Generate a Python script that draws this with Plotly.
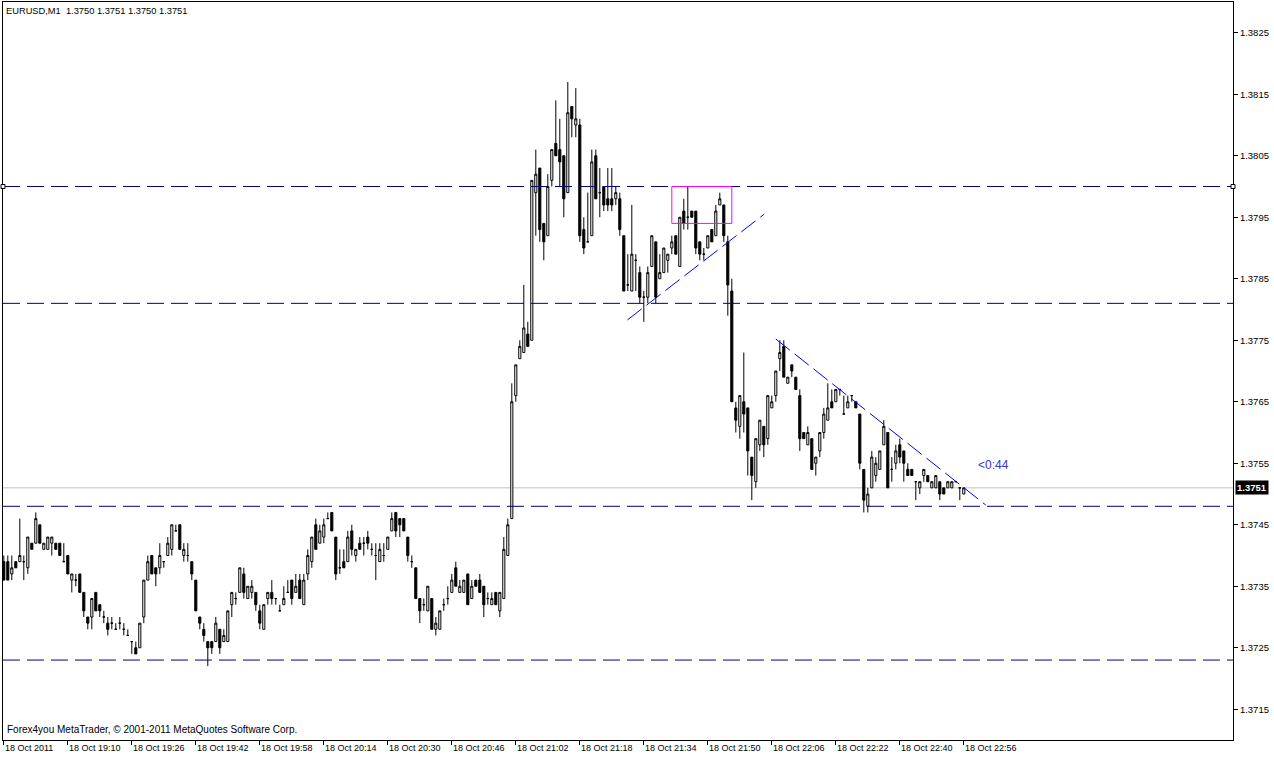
import plotly.graph_objects as go

# ---- candle data (EURUSD M1, 18 Oct 2011) ----
opens = [
1.3739,1.3739,1.3737,1.3739,1.3739,1.3739,1.3738,1.3742,1.3742,1.3745,
1.3741,1.3741,1.3742,1.3742,1.3742,1.3739,1.3740,1.3736,1.3736,1.3737,
1.3734,1.3730,1.3730,1.3734,1.3732,1.3730,1.3729,1.3729,1.3728,1.3729,
1.3728,1.3727,1.3726,1.3725,1.3725,1.3730,1.3736,1.3740,1.3738,1.3738,
1.3739,1.3740,1.3741,1.3744,1.3745,1.3740,1.3740,1.3739,1.3736,1.3730,
1.3728,1.3726,1.3726,1.3726,1.3728,1.3726,1.3726,1.3732,1.3733,1.3734,
1.3737,1.3733,1.3734,1.3734,1.3731,1.3728,1.3733,1.3734,1.3733,1.3731,
1.3732,1.3734,1.3736,1.3734,1.3736,1.3732,1.3737,1.3739,1.3745,1.3742,
1.3743,1.3746,1.3747,1.3743,1.3738,1.3739,1.3739,1.3744,1.3740,1.3742,
1.3742,1.3743,1.3741,1.3740,1.3739,1.3740,1.3741,1.3744,1.3747,1.3746,
1.3746,1.3743,1.3739,1.3738,1.3733,1.3732,1.3731,1.3733,1.3728,1.3728,
1.3732,1.3733,1.3734,1.3738,1.3734,1.3734,1.3737,1.3733,1.3736,1.3736,
1.3735,1.3733,1.3732,1.3734,1.3731,1.3733,1.3740,1.3746,1.3766,1.3772,
1.3773,1.3776,1.3775,1.3799,1.3803,1.3794,1.3792,1.3801,1.3807,1.3806,
1.3805,1.3799,1.3813,1.3810,1.3810,1.3793,1.3791,1.3792,1.3805,1.3799,
1.3800,1.3798,1.3798,1.3798,1.3798,1.3792,1.3784,1.3783,1.3788,1.3786,
1.3782,1.3782,1.3787,1.3791,1.3785,1.3786,1.3788,1.3790,1.3792,1.3787,
1.3796,1.3795,1.3796,1.3796,1.3791,1.3789,1.3790,1.3793,1.3792,1.3797,
1.3797,1.3791,1.3783,1.3764,1.3761,1.3765,1.3764,1.3756,1.3752,1.3758,
1.3761,1.3759,1.3764,1.3766,1.3772,1.3774,1.3768,1.3771,1.3769,1.3766,
1.3760,1.3758,1.3759,1.3755,1.3757,1.3760,1.3762,1.3765,1.3765,1.3767,
1.3763,1.3764,1.3766,1.3765,1.3763,1.3754,1.3748,1.3751,1.3753,1.3754,
1.3758,1.3760,1.3754,1.3755,1.3758,1.3757,1.3754,1.3754,1.3752,1.3751,
1.3753,1.3753,1.3751,1.3751,1.3752,1.3751,1.3751,1.3751,1.3752,1.3751,
1.3750]

highs = [
1.3740,1.3740,1.3740,1.3739,1.3746,1.3740,1.3743,1.3742,1.3747,1.3745,
1.3742,1.3743,1.3743,1.3742,1.3742,1.3742,1.3740,1.3737,1.3737,1.3737,
1.3734,1.3730,1.3733,1.3734,1.3732,1.3731,1.3730,1.3730,1.3729,1.3730,
1.3729,1.3728,1.3726,1.3726,1.3729,1.3736,1.3740,1.3740,1.3738,1.3742,
1.3739,1.3743,1.3745,1.3745,1.3745,1.3742,1.3742,1.3739,1.3736,1.3730,
1.3729,1.3726,1.3726,1.3730,1.3728,1.3728,1.3731,1.3734,1.3734,1.3738,
1.3738,1.3735,1.3736,1.3734,1.3732,1.3732,1.3734,1.3736,1.3733,1.3732,
1.3735,1.3736,1.3736,1.3737,1.3737,1.3737,1.3741,1.3743,1.3746,1.3745,
1.3746,1.3747,1.3747,1.3743,1.3741,1.3741,1.3744,1.3745,1.3741,1.3743,
1.3743,1.3744,1.3742,1.3742,1.3742,1.3742,1.3743,1.3747,1.3747,1.3746,
1.3746,1.3743,1.3740,1.3738,1.3733,1.3733,1.3735,1.3733,1.3730,1.3731,
1.3733,1.3735,1.3737,1.3739,1.3736,1.3736,1.3737,1.3736,1.3736,1.3737,
1.3735,1.3734,1.3734,1.3734,1.3734,1.3743,1.3746,1.3768,1.3771,1.3775,
1.3784,1.3778,1.3801,1.3806,1.3803,1.3794,1.3802,1.3806,1.3814,1.3811,
1.3805,1.3817,1.3813,1.3816,1.3811,1.3795,1.3799,1.3806,1.3806,1.3803,
1.3800,1.3803,1.3803,1.3800,1.3799,1.3792,1.3789,1.3797,1.3789,1.3787,
1.3783,1.3787,1.3792,1.3791,1.3789,1.3790,1.3789,1.3792,1.3792,1.3795,
1.3798,1.3800,1.3796,1.3796,1.3791,1.3790,1.3792,1.3793,1.3797,1.3799,
1.3797,1.3792,1.3785,1.3765,1.3766,1.3773,1.3764,1.3756,1.3759,1.3762,
1.3761,1.3766,1.3766,1.3770,1.3775,1.3775,1.3769,1.3771,1.3769,1.3767,
1.3760,1.3761,1.3759,1.3756,1.3760,1.3764,1.3768,1.3767,1.3767,1.3767,
1.3766,1.3766,1.3766,1.3765,1.3763,1.3754,1.3751,1.3757,1.3756,1.3757,
1.3762,1.3760,1.3756,1.3758,1.3759,1.3757,1.3755,1.3754,1.3752,1.3752,
1.3754,1.3753,1.3752,1.3753,1.3752,1.3751,1.3752,1.3752,1.3752,1.3751,
1.3751]

lows = [
1.3736,1.3736,1.3736,1.3738,1.3739,1.3736,1.3737,1.3741,1.3742,1.3742,
1.3741,1.3741,1.3740,1.3741,1.3740,1.3739,1.3737,1.3734,1.3735,1.3734,
1.3730,1.3728,1.3728,1.3731,1.3730,1.3729,1.3727,1.3728,1.3728,1.3728,
1.3727,1.3727,1.3724,1.3724,1.3725,1.3729,1.3736,1.3737,1.3735,1.3737,
1.3738,1.3740,1.3740,1.3744,1.3741,1.3739,1.3739,1.3736,1.3731,1.3728,
1.3726,1.3722,1.3724,1.3726,1.3724,1.3726,1.3726,1.3730,1.3732,1.3734,
1.3733,1.3733,1.3733,1.3731,1.3728,1.3728,1.3732,1.3732,1.3732,1.3731,
1.3732,1.3734,1.3732,1.3734,1.3733,1.3732,1.3736,1.3738,1.3741,1.3742,
1.3742,1.3746,1.3744,1.3736,1.3737,1.3738,1.3739,1.3740,1.3739,1.3741,
1.3740,1.3741,1.3740,1.3736,1.3739,1.3739,1.3741,1.3744,1.3743,1.3743,
1.3744,1.3739,1.3738,1.3733,1.3729,1.3731,1.3731,1.3728,1.3727,1.3728,
1.3731,1.3732,1.3734,1.3735,1.3734,1.3734,1.3732,1.3733,1.3735,1.3734,
1.3730,1.3732,1.3732,1.3732,1.3730,1.3733,1.3740,1.3746,1.3765,1.3772,
1.3773,1.3774,1.3775,1.3792,1.3791,1.3788,1.3792,1.3800,1.3805,1.3800,
1.3795,1.3799,1.3808,1.3808,1.3791,1.3789,1.3791,1.3792,1.3798,1.3795,
1.3796,1.3796,1.3796,1.3797,1.3792,1.3783,1.3783,1.3783,1.3783,1.3781,
1.3778,1.3781,1.3787,1.3781,1.3785,1.3786,1.3786,1.3789,1.3789,1.3787,
1.3793,1.3793,1.3795,1.3789,1.3788,1.3788,1.3790,1.3791,1.3792,1.3797,
1.3791,1.3779,1.3765,1.3760,1.3759,1.3760,1.3753,1.3749,1.3751,1.3757,
1.3756,1.3758,1.3764,1.3765,1.3770,1.3769,1.3768,1.3769,1.3767,1.3757,
1.3759,1.3758,1.3754,1.3753,1.3756,1.3759,1.3762,1.3764,1.3765,1.3766,
1.3763,1.3764,1.3765,1.3764,1.3754,1.3747,1.3747,1.3751,1.3752,1.3754,
1.3758,1.3751,1.3752,1.3754,1.3755,1.3752,1.3753,1.3753,1.3749,1.3750,
1.3752,1.3752,1.3751,1.3751,1.3749,1.3750,1.3751,1.3751,1.3752,1.3749,
1.3750]

closes = [
1.3736,1.3736,1.3738,1.3738,1.3740,1.3739,1.3743,1.3741,1.3746,1.3742,
1.3742,1.3743,1.3743,1.3741,1.3740,1.3739,1.3737,1.3737,1.3736,1.3734,
1.3731,1.3729,1.3733,1.3731,1.3731,1.3730,1.3728,1.3729,1.3728,1.3729,
1.3728,1.3727,1.3726,1.3724,1.3729,1.3736,1.3739,1.3737,1.3737,1.3740,
1.3739,1.3742,1.3745,1.3744,1.3741,1.3741,1.3740,1.3737,1.3731,1.3729,
1.3727,1.3725,1.3725,1.3729,1.3725,1.3727,1.3731,1.3734,1.3733,1.3738,
1.3734,1.3735,1.3735,1.3732,1.3729,1.3732,1.3734,1.3733,1.3733,1.3731,
1.3733,1.3734,1.3733,1.3735,1.3733,1.3736,1.3740,1.3743,1.3741,1.3744,
1.3745,1.3746,1.3744,1.3737,1.3738,1.3738,1.3743,1.3741,1.3741,1.3741,
1.3742,1.3742,1.3741,1.3740,1.3741,1.3740,1.3743,1.3746,1.3744,1.3745,
1.3744,1.3740,1.3739,1.3733,1.3731,1.3732,1.3735,1.3728,1.3729,1.3731,
1.3732,1.3733,1.3736,1.3735,1.3735,1.3736,1.3732,1.3735,1.3735,1.3734,
1.3732,1.3733,1.3733,1.3732,1.3734,1.3741,1.3745,1.3765,1.3771,1.3774,
1.3777,1.3774,1.3801,1.3802,1.3793,1.3791,1.3800,1.3806,1.3805,1.3804,
1.3798,1.3812,1.3811,1.3811,1.3792,1.3790,1.3791,1.3804,1.3798,1.3799,
1.3797,1.3797,1.3797,1.3799,1.3793,1.3783,1.3784,1.3789,1.3788,1.3782,
1.3782,1.3786,1.3792,1.3782,1.3786,1.3790,1.3789,1.3791,1.3789,1.3795,
1.3794,1.3795,1.3795,1.3790,1.3789,1.3789,1.3792,1.3791,1.3796,1.3798,
1.3792,1.3784,1.3765,1.3762,1.3766,1.3763,1.3757,1.3753,1.3759,1.3762,
1.3758,1.3766,1.3765,1.3770,1.3773,1.3769,1.3769,1.3770,1.3767,1.3759,
1.3759,1.3760,1.3754,1.3756,1.3760,1.3763,1.3764,1.3764,1.3767,1.3767,
1.3763,1.3765,1.3766,1.3764,1.3755,1.3749,1.3750,1.3756,1.3755,1.3757,
1.3761,1.3751,1.3754,1.3757,1.3756,1.3755,1.3753,1.3753,1.3752,1.3752,
1.3754,1.3752,1.3752,1.3753,1.3750,1.3750,1.3752,1.3752,1.3752,1.3751,
1.3751]

bar_index = list(range(len(opens)))

time_tick_bars = [0, 16, 32, 48, 64, 80, 96, 112, 128, 144, 160, 176, 192, 208, 224, 240]
time_tick_labels = ["18 Oct 2011", "18 Oct 19:10", "18 Oct 19:26", "18 Oct 19:42",
                    "18 Oct 19:58", "18 Oct 20:14", "18 Oct 20:30", "18 Oct 20:46",
                    "18 Oct 21:02", "18 Oct 21:18", "18 Oct 21:34", "18 Oct 21:50",
                    "18 Oct 22:06", "18 Oct 22:22", "18 Oct 22:40", "18 Oct 22:56"]

price_ticks = [1.3715, 1.3725, 1.3735, 1.3745, 1.3755, 1.3765, 1.3775,
               1.3785, 1.3795, 1.3805, 1.3815, 1.3825]
price_tick_labels = ["%.4f" % p for p in price_ticks]

level_lines = [1.3800, 1.3781, 1.3748, 1.3723]
current_price = 1.3751

trend_up_bars = [155.9, 190.1]
trend_up_prices = [1.37783, 1.37955]
trend_down_bars = [193.0, 245.5]
trend_down_prices = [1.37752, 1.37482]

box_bars = [167.0, 182.0]
box_prices = [1.3794, 1.3800]

timer_bar = 243.0
timer_price = 1.37547
timer_text = "<0:44"

header_text = "EURUSD,M1  1.3750 1.3751 1.3750 1.3751"
credit_text = "Forex4you MetaTrader, \u00a9 2001-2011 MetaQuotes Software Corp."

FONT = "Liberation Sans, Arial, sans-serif"
NAVY = "#000080"

fig = go.Figure()

fig.add_trace(go.Candlestick(
    x=bar_index, open=opens, high=highs, low=lows, close=closes,
    increasing=dict(line=dict(color="black", width=1), fillcolor="white"),
    decreasing=dict(line=dict(color="black", width=1), fillcolor="black"),
    whiskerwidth=0, showlegend=False, hoverinfo="skip",
))

shapes = []
shapes.append(dict(type="line", xref="paper", x0=0, x1=1, yref="y",
                   y0=current_price, y1=current_price,
                   line=dict(color="#C0C0C0", width=1), layer="below"))
for lv in level_lines:
    shapes.append(dict(type="line", xref="paper", x0=0, x1=1, yref="y", y0=lv, y1=lv,
                       line=dict(color=NAVY, width=1, dash="17px,7px")))
for xp in (0, 1):
    shapes.append(dict(type="rect", xref="paper", xsizemode="pixel", xanchor=xp,
                       x0=-2, x1=2, yref="y", ysizemode="pixel", yanchor=level_lines[0],
                       y0=-2, y1=2, fillcolor="white", line=dict(color="black", width=1)))
shapes.append(dict(type="line", xref="x", yref="y",
                   x0=trend_up_bars[0], x1=trend_up_bars[1],
                   y0=trend_up_prices[0], y1=trend_up_prices[1],
                   line=dict(color="#0000FF", width=1, dash="18px,6px")))
shapes.append(dict(type="line", xref="x", yref="y",
                   x0=trend_down_bars[0], x1=trend_down_bars[1],
                   y0=trend_down_prices[0], y1=trend_down_prices[1],
                   line=dict(color="#0000FF", width=1, dash="18px,6px")))
shapes.append(dict(type="rect", xref="x", yref="y",
                   x0=box_bars[0], x1=box_bars[1], y0=box_prices[0], y1=box_prices[1],
                   line=dict(color="#FF00FF", width=1), fillcolor="rgba(0,0,0,0)"))

annotations = []
for b, t in zip(time_tick_bars, time_tick_labels):
    annotations.append(dict(x=b, xref="x", y=0, yref="paper", text=t, showarrow=False,
                            xanchor="left", yanchor="top", xshift=-1, yshift=-1,
                            font=dict(family=FONT, size=9, color="black")))
annotations.append(dict(x=0, xref="paper", y=1, yref="paper", text=header_text,
                        showarrow=False, xanchor="left", yanchor="top", xshift=1, yshift=-2,
                        font=dict(family=FONT, size=9.3, color="black")))
annotations.append(dict(x=0, xref="paper", y=0, yref="paper", text=credit_text,
                        showarrow=False, xanchor="left", yanchor="bottom", xshift=2, yshift=3,
                        font=dict(family=FONT, size=10, color="black")))
annotations.append(dict(x=timer_bar, xref="x", y=timer_price, yref="y", text=timer_text,
                        showarrow=False, xanchor="left", yanchor="middle",
                        font=dict(family=FONT, size=12, color="#3535C8")))
annotations.append(dict(x=1, xref="paper", y=current_price, yref="y",
                        text="<b>%.4f</b>" % current_price, showarrow=False,
                        xanchor="left", yanchor="middle", xshift=2,
                        bgcolor="black", borderpad=1,
                        font=dict(family=FONT, size=9.5, color="white")))

fig.update_layout(
    width=1274, height=757,
    margin=dict(l=3, r=41, t=2, b=17, pad=0),
    paper_bgcolor="white", plot_bgcolor="white",
    showlegend=False, boxgap=0.25,
    shapes=shapes, annotations=annotations,
    xaxis=dict(range=[-0.2, 307.3], tickvals=time_tick_bars, showticklabels=False,
               ticks="outside", ticklen=4, tickcolor="black", showgrid=False,
               zeroline=False, showline=True, mirror=True, linecolor="black",
               linewidth=1, rangeslider=dict(visible=False), fixedrange=True),
    yaxis=dict(range=[1.3710, 1.3830], side="right", tickvals=price_ticks,
               ticktext=price_tick_labels, ticks="outside", ticklen=4,
               tickcolor="black", showgrid=False, zeroline=False, showline=True,
               mirror=True, linecolor="black", linewidth=1,
               tickfont=dict(family=FONT, size=9.5, color="black"), fixedrange=True),
)

fig.write_html("out.html")
